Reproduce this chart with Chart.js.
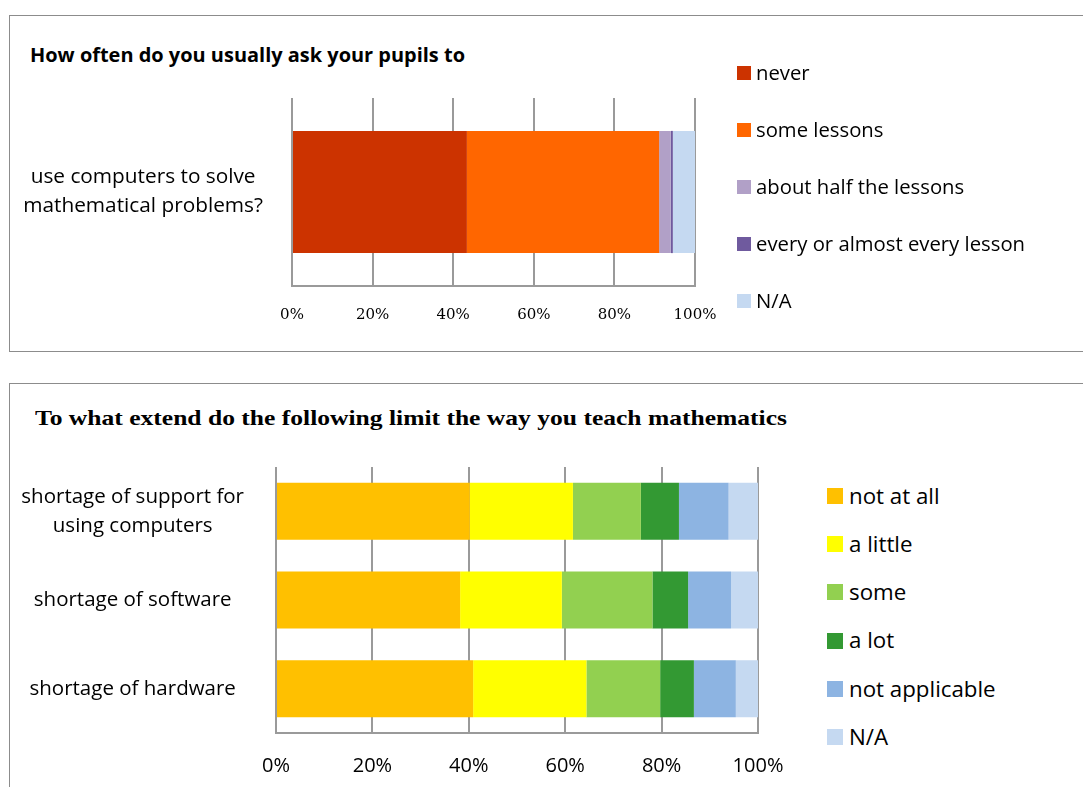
<!DOCTYPE html>
<html><head><meta charset="utf-8">
<script src="https://cdn.jsdelivr.net/npm/chart.js@4.4.0/dist/chart.umd.min.js"></script>
<style>
body{margin:0;background:#fff;width:1083px;height:787px;overflow:hidden;position:relative;font-family:'Open Sans',sans-serif;}
.frame{position:absolute;border:1.5px solid #8c8c8c;box-sizing:border-box;}
.abs{position:absolute;}
.leg{position:absolute;white-space:nowrap;color:#000;}
.sw{position:absolute;}
</style></head><body>
<div class="frame" style="left:9px;top:15px;width:1100px;height:337px"></div>
<div class="frame" style="left:9px;top:383px;width:1100px;height:500px"></div>
<div class="abs" id="t1" style="left:30px;top:42px;font:bold 19px 'Open Sans';white-space:nowrap;transform-origin:0 0">How often do you usually ask your pupils to</div>
<div class="abs" id="t2" style="left:35px;top:406px;font:bold 21px 'Liberation Serif';white-space:nowrap;transform-origin:0 0">To what extend do the following limit the way you teach mathematics</div>
<canvas id="c1" class="abs" style="left:0;top:0" width="740" height="340"></canvas>
<canvas id="c2" class="abs" style="left:0;top:370px" width="810" height="417"></canvas>
<div id="legs"></div>
<script>
// ---- data: chart 1 ----
const cat1 = [['use computers to solve','mathematical problems?']];
const series1Names = ['never','some lessons','about half the lessons','every or almost every lesson','N/A'];
const never = [43.4];
const someLessons = [47.7];
const aboutHalf = [2.9];
const everyLesson = [0.5];
const na1 = [5.5];
const colors1 = ['#CC3300','#FF6600','#B1A0C7','#6F5A9E','#C5D9F1'];
const ticks1 = ['0%','20%','40%','60%','80%','100%'];

// ---- data: chart 2 ----
const cat2 = [['shortage of support for','using computers'],'shortage of software','shortage of hardware'];
const series2Names = ['not at all','a little','some','a lot','not applicable','N/A'];
const notAtAll = [40.2, 38.2, 40.9];
const aLittle = [21.4, 21.1, 23.5];
const some = [14.1, 18.8, 15.3];
const aLot = [7.9, 7.4, 7.0];
const notApplicable = [10.3, 8.9, 8.7];
const na2 = [6.1, 5.6, 4.6];
const colors2 = ['#FFC000','#FFFF00','#92D050','#339933','#8DB4E2','#C5D9F1'];
const ticks2 = ['0%','20%','40%','60%','80%','100%'];

const data1 = [never, someLessons, aboutHalf, everyLesson, na1];
const data2 = [notAtAll, aLittle, some, aLot, notApplicable, na2];

function makeChart(id, cats, names, vals, cols, tickLabels, cfg){
  return new Chart(document.getElementById(id), {
    type:'bar',
    data:{labels:cats, datasets:names.map((n,i)=>({label:n,data:vals[i],backgroundColor:cols[i],borderWidth:0,barPercentage:cfg.barPct,categoryPercentage:1}))},
    options:{
      responsive:false, animation:false, indexAxis:'y',
      layout:{padding:{left:0,top:cfg.top,right:cfg.right,bottom:0}},
      plugins:{legend:{display:false},tooltip:{enabled:false}},
      scales:{
        x:{stacked:true,min:0,max:100,
          ticks:{stepSize:20,callback:(v,i)=>tickLabels[i],font:cfg.xFont,color:'#000',padding:cfg.xPad,maxRotation:0},
          grid:{color:'#9a9a9a',lineWidth:2,drawTicks:false},
          border:{display:true,color:'#9a9a9a',width:2},
          afterFit(s){s.height=cfg.xH;}},
        y:{stacked:true,
          ticks:{crossAlign:'center',padding:cfg.yPad,font:cfg.yFont,color:'#000'},
          grid:{display:false},border:{display:false},
          afterFit(s){s.width=cfg.yW;}}
      }
    }
  });
}
makeChart('c1',cat1,series1Names,data1,colors1,ticks1,{barPct:0.65,top:98,right:45,xH:54,xPad:20,xFont:{family:'DejaVu Serif',size:15},yPad:21,yFont:{family:'Open Sans',size:20.8,lineHeight:1.4},yW:292});
makeChart('c2',cat2,series2Names,data2,colors2,ticks2,{barPct:0.643,top:97,right:52,xH:54,xPad:21,xFont:{family:'Open Sans',size:20},yPad:24,yFont:{family:'Open Sans',size:20.5,lineHeight:1.42},yW:276});

// legends
const legs = document.getElementById('legs');
function legend(names, cols, x, y0, dy, sq, tx, fs){
  names.forEach((n,i)=>{
    const cy = y0 + i*dy;
    const s = document.createElement('div');
    s.className='sw'; s.style.cssText=`left:${x}px;top:${cy-sq/2}px;width:${sq}px;height:${sq}px;background:${cols[i]}`;
    legs.appendChild(s);
    const t = document.createElement('div');
    t.className='leg'; t.textContent=n;
    t.style.cssText=`left:${tx}px;top:${cy-fs*0.68}px;font-size:${fs}px;line-height:${fs*1.3}px`;
    legs.appendChild(t);
  });
}
legend(series1Names, colors1, 737, 73, 57, 14, 756, 20.3);
legend(series2Names, colors2, 827, 496, 48.2, 16, 849, 22.3);

// stretch titles to the reference width
function fit(id, target){
  const el = document.getElementById(id);
  const w = el.getBoundingClientRect().width;
  el.style.transform = `scaleX(${target / w})`;
}
fit('t1', 435);
fit('t2', 752);
</script>
</body></html>
